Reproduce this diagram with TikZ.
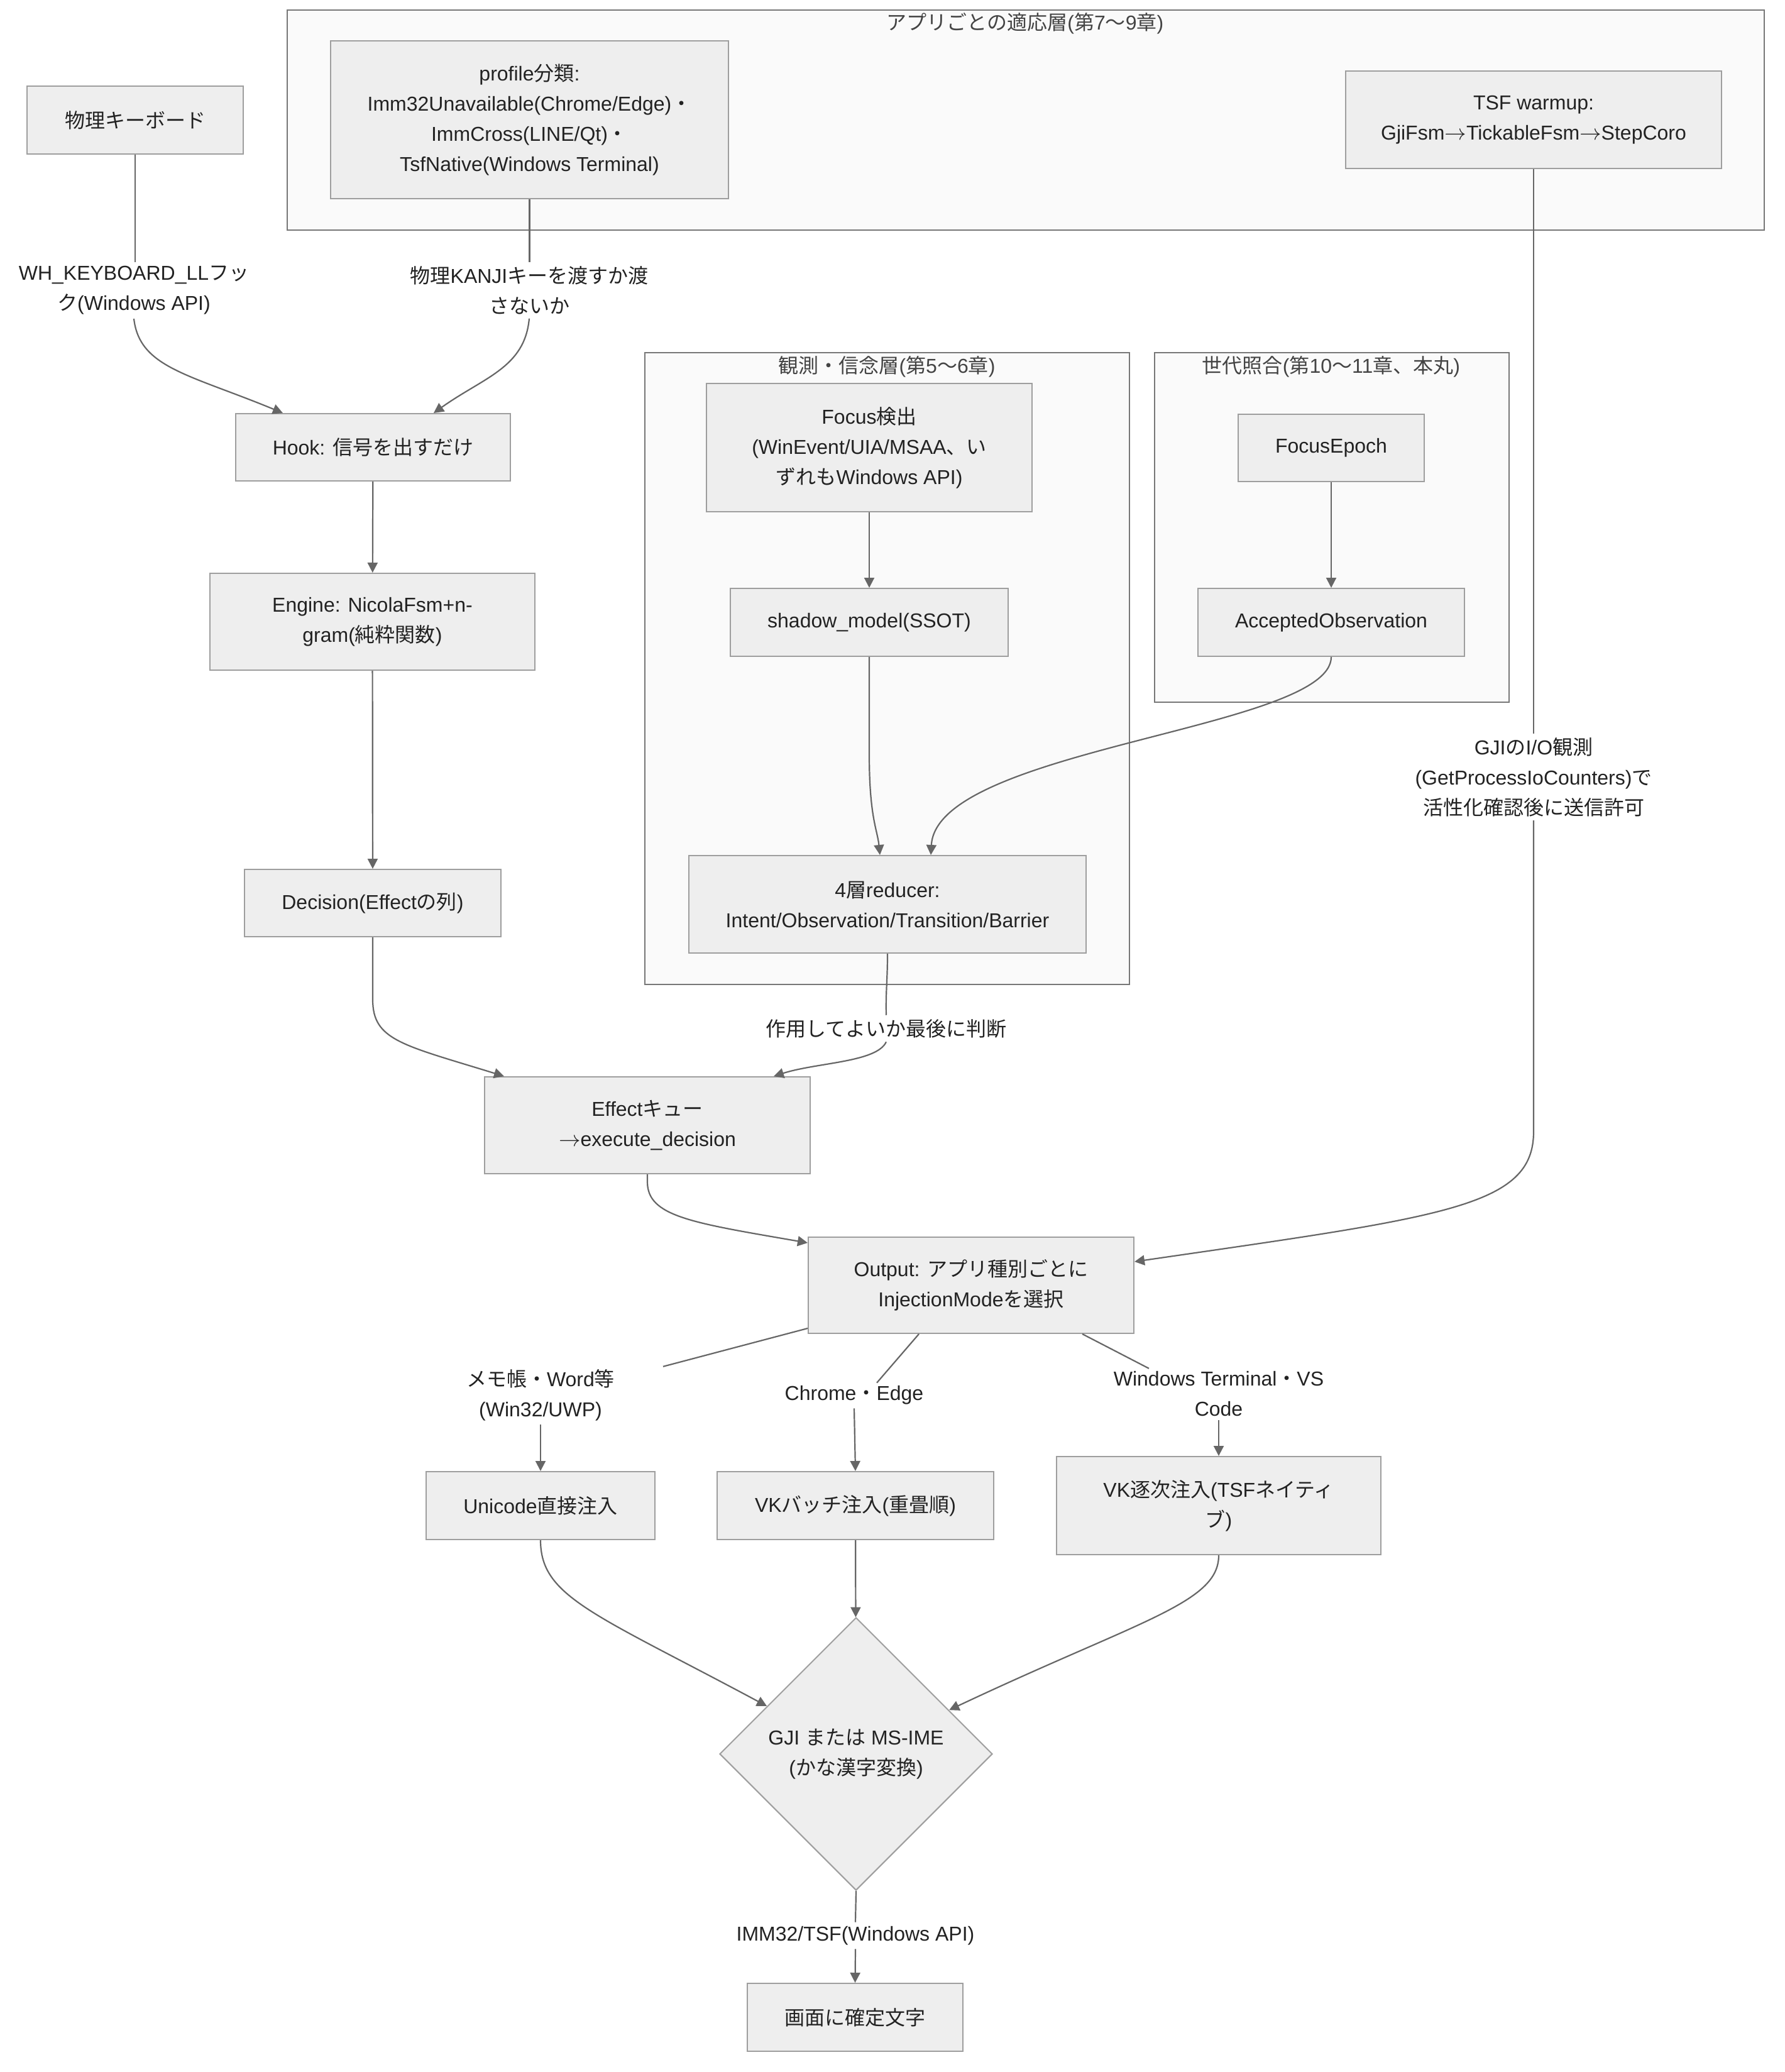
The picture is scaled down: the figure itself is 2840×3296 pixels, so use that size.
\documentclass[tikz,border=0pt]{standalone}
\usepackage{fontspec}
\setmainfont{Liberation Sans}
\newfontfamily\cjk{Noto Sans CJK JP}
\newcommand{\J}[1]{{\cjk #1}}
\newcommand{\ra}{\ensuremath{\rightarrow}}
\usetikzlibrary{arrows.meta,shapes.geometric,calc}
\definecolor{nodefill}{HTML}{EEEEEE}
\definecolor{nodeborder}{HTML}{9E9E9E}
\definecolor{clusterfill}{HTML}{FAFAFA}
\definecolor{clusterborder}{HTML}{777777}
\definecolor{edgecol}{HTML}{666666}
\definecolor{txt}{HTML}{222222}
\definecolor{ctxt}{HTML}{444444}
\tikzset{
  every node/.style={font=\fontsize{16}{24}\selectfont, text=txt, align=center},
  box/.style={draw=nodeborder, fill=nodefill, line width=1pt, inner sep=0pt, rectangle},
  gbox/.style={draw=clusterborder, fill=clusterfill, line width=1pt, inner sep=0pt, rectangle},
  ctitle/.style={text=ctxt, inner sep=0pt},
  elabel/.style={inner xsep=2pt, inner ysep=3pt},
  edge/.style={draw=edgecol, line width=1.1pt},
  arr/.style={edge, -{Triangle[length=8pt,width=8pt]}},
}
\begin{document}
\begin{tikzpicture}[x=0.5pt,y=-0.5pt]
\fill[white] (0,0) rectangle (2840,3296);
\useasboundingbox (0,0) rectangle (2840,3296);

% clusters
\node[gbox, minimum width=1175pt, minimum height=175pt] (appC) at (1632,191) {};
\node[ctitle] (appT) at (1631,37) {\J{アプリごとの適応層}(\J{第}7\J{〜}9\J{章})};
\node[gbox, minimum width=385.5pt, minimum height=502.5pt] (obsC) at (1411.5,1063.5) {};
\node[ctitle] (obsT) at (1411,583) {\J{観測・信念層}(\J{第}5\J{〜}6\J{章})};
\node[gbox, minimum width=282pt, minimum height=278pt] (genC) at (2119,839) {};
\node[ctitle] (genT) at (2118,583) {\J{世代照合}(\J{第}10\J{〜}11\J{章、本丸})};

% nodes
\node[box, minimum width=172pt, minimum height=54pt] (kb) at (215,191) {\J{物理キーボード}};
\node[box, minimum width=316.5pt, minimum height=125.5pt] (profile) at (842.5,190.5) {profile\J{分類}:\\Imm32Unavailable(Chrome/Edge)\J{・}\\ImmCross(LINE/Qt)\J{・}\\TsfNative(Windows Terminal)};
\node[box, minimum width=299pt, minimum height=77.5pt] (tsf) at (2440,190.5) {TSF warmup:\\GjiFsm\ra TickableFsm\ra StepCoro};
\node[box, minimum width=218.5pt, minimum height=53.5pt] (hook) at (593.5,711.5) {Hook: \J{信号を出すだけ}};
\node[box, minimum width=258.5pt, minimum height=77pt] (engine) at (592.5,989) {Engine: NicolaFsm+n-\\gram(\J{純粋関数})};
\node[box, minimum width=204pt, minimum height=53.5pt] (decision) at (593,1436.5) {Decision(Effect\J{の列})};
\node[box, minimum width=259pt, minimum height=77pt] (effect) at (1030,1790) {Effect\J{キュー}\\\ra execute\_decision};
\node[box, minimum width=259pt, minimum height=102pt] (focus) at (1383,712) {Focus\J{検出}\\(WinEvent/UIA/MSAA\J{、い}\\\J{ずれも}Windows API)};
\node[box, minimum width=221pt, minimum height=54pt] (shadow) at (1383,990) {shadow\_model(SSOT)};
\node[box, minimum width=316pt, minimum height=77.5pt] (reducer) at (1412,1438.5) {4\J{層}reducer:\\Intent/Observation/Transition/Barrier};
\node[box, minimum width=148pt, minimum height=53.5pt] (epoch) at (2118,712.5) {FocusEpoch};
\node[box, minimum width=212pt, minimum height=54pt] (accepted) at (2118,990) {AcceptedObservation};
\node[box, minimum width=259pt, minimum height=76.5pt] (output) at (1545,2044.5) {Output: \J{アプリ種別ごとに}\\InjectionMode\J{を選択}};
\node[box, minimum width=182pt, minimum height=54pt] (unicode) at (860,2395) {Unicode\J{直接注入}};
\node[box, minimum width=220pt, minimum height=54pt] (vkbatch) at (1361,2395) {VK\J{バッチ注入}(\J{重畳順})};
\node[box, minimum width=258pt, minimum height=78pt] (vkseq) at (1939,2395) {VK\J{逐次注入}(TSF\J{ネイティ}\\\J{ブ})};
\node[box, diamond, aspect=1, minimum width=217pt, minimum height=217pt] (gji) at (1362,2790) {GJI \J{または} MS-IME\\(\J{かな漢字変換})};
\node[box, minimum width=171.5pt, minimum height=54pt] (final) at (1360.5,3209) {\J{画面に確定文字}};

% edge labels
\node[elabel] (lblWH) at (213,462) {WH\_KEYBOARD\_LL\J{フッ}\\\J{ク}(Windows API)};
\node[elabel] (lblKANJI) at (842,462) {\J{物理}KANJI\J{キーを渡すか渡}\\\J{さないか}};
\node[elabel] (lblJudge) at (1410,1636) {\J{作用してよいか最後に判断}};
\node[elabel] (lblGJI) at (2440,1236) {GJI\J{の}I/O\J{観測}\\(GetProcessIoCounters)\J{で}\\\J{活性化確認後に送信許可}};
\node[elabel] (lblMemo) at (860,2219) {\J{メモ帳・}Word\J{等}\\(Win32/UWP)};
\node[elabel] (lblChrome) at (1359,2219) {Chrome\J{・}Edge};
\node[elabel] (lblWT) at (1939,2217) {Windows Terminal\J{・}VS\\Code};
\node[elabel] (lblIMM) at (1361,3079) {IMM32/TSF(Windows API)};

% connectors
\draw[edge] (kb.south) -- (kb.south |- lblWH.north);
\draw[arr] (lblWH.south) .. controls (222,585) and (300,595) .. ([xshift=-71.75pt]hook.north);
\draw[edge] (profile.south) -- (profile.south |- lblKANJI.north);
\draw[arr] (lblKANJI.south) .. controls (835,585) and (770,600) .. ([xshift=48.25pt]hook.north);
\draw[arr] (hook) -- (engine);
\draw[arr] (engine) -- (decision);
\draw[arr] (decision.south) -- (593,1590) .. controls (593,1655) and (640,1662) .. ([xshift=16pt]effect.north west);
\draw[edge] (reducer.south) .. controls (1412,1560) and (1409,1580) .. (lblJudge.north);
\draw[arr] (lblJudge.south) .. controls (1395,1690) and (1300,1690) .. ([xshift=-29.5pt]effect.north east);
\draw[arr] (focus) -- (shadow);
\draw[arr] (shadow.south) -- (1383,1200) .. controls (1383,1300) and (1396,1320) .. ([xshift=-6pt]reducer.north);
\draw[arr] (epoch) -- (accepted);
\draw[arr] (accepted.south) .. controls (2118,1160) and (1490,1190) .. ([xshift=34.5pt]reducer.north);
\draw[edge] (tsf.south) -- (lblGJI.north);
\draw[arr] (lblGJI.south) -- (2440,1800) .. controls (2440,1920) and (2300,1935) .. ([yshift=18.75pt]output.east);
\draw[arr] (effect.south) -- (1030,1880) .. controls (1030,1935) and (1100,1945) .. ([yshift=-5pt]output.north west);
\draw[edge] ([yshift=4.5pt]output.south west) -- ([xshift=97.5pt,yshift=-1pt]lblMemo.north);
\draw[arr] (lblMemo.south) -- (unicode.north);
\draw[edge] ([xshift=-41.5pt]output.south) -- ([xshift=18pt,yshift=-1pt]lblChrome.north);
\draw[arr] (lblChrome.south) -- (vkbatch.north);
\draw[edge] ([xshift=88.5pt]output.south) -- ([xshift=-55.5pt,yshift=-1pt]lblWT.north);
\draw[arr] (lblWT.south) -- (vkseq.north);
\draw[arr] (unicode.south) .. controls (860,2540) and (944,2566) .. (gji);
\draw[arr] (vkbatch) -- (gji);
\draw[arr] (vkseq.south) .. controls (1939,2550) and (1816,2576) .. (gji);
\draw[edge] (gji.south) -- (lblIMM.north);
\draw[arr] (lblIMM.south) -- (final.north);
\end{tikzpicture}
\end{document}
